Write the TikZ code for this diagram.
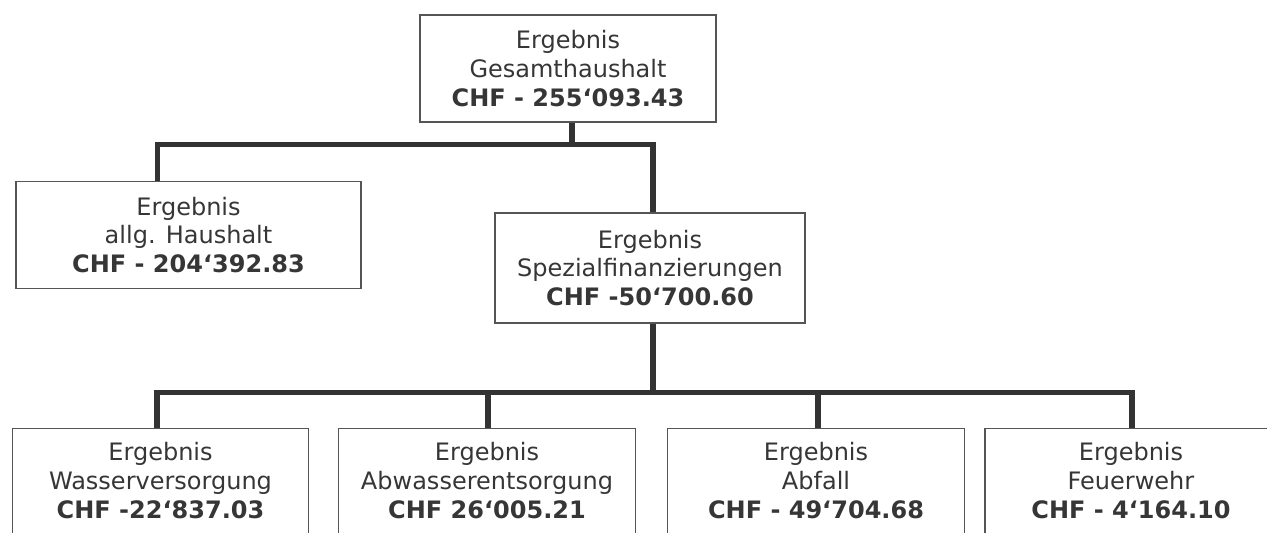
\documentclass[tikz,border=0pt]{standalone}
\usepackage{fontspec}
\setmainfont{DejaVu Sans}
\definecolor{textgray}{HTML}{363636}
\definecolor{boxgray}{HTML}{555555}
\definecolor{conngray}{HTML}{333333}
\begin{document}
\begin{tikzpicture}[x=1pt,y=-1pt,
  box/.style={draw=boxgray,line width=1.3pt,fill=white,align=center,text=textgray,
    font=\fontsize{24}{28.8}\selectfont,inner sep=0pt,minimum width=296pt,minimum height=107pt},
  lowbox/.style={box,anchor=north,minimum height=0pt,inner ysep=14pt,text depth=45pt},
  conn/.style={draw=conngray,line width=5.5pt}]
\path[use as bounding box] (0,0) rectangle (1267,533);
\clip (0,0) rectangle (1267,533);
\fill[white] (0,0) rectangle (1267,533);
\node[box] (top) at (568,68.5) {Ergebnis\\Gesamthaushalt\\\textbf{CHF - 255‘093.43}};
\node[box,minimum width=345pt] (allg) at (188.5,235) {Ergebnis\\allg. Haushalt\\\textbf{CHF - 204‘392.83}};
\node[box,minimum width=310pt,minimum height=110pt] (spez) at (650,268) {Ergebnis\\Spezialfinanzierungen\\\textbf{CHF -50‘700.60}};
\node[lowbox] (b1) at (160.5,428) {Ergebnis\\Wasserversorgung\\\textbf{CHF -22‘837.03}};
\node[lowbox,minimum width=297pt] (b2) at (487,428) {Ergebnis\\Abwasserentsorgung\\\textbf{CHF 26‘005.21}};
\node[lowbox,minimum width=297pt] (b3) at (816,428) {Ergebnis\\Abfall\\\textbf{CHF - 49‘704.68}};
\node[lowbox,minimum width=292pt] (b4) at (1131,428) {Ergebnis\\Feuerwehr\\\textbf{CHF - 4‘164.10}};
\coordinate (j1) at ([xshift=4pt,yshift=-22pt]top.south);
\draw[conn] ([xshift=4pt]top.south) -- (j1);
\draw[conn] ([xshift=-31pt]allg.north) |- (j1) -| ([xshift=3pt]spez.north);
\coordinate (j2) at ([xshift=3pt,yshift=-69pt]spez.south);
\draw[conn] ([xshift=3pt]spez.south) -- (j2);
\draw[conn] ([xshift=-3.5pt]b1.north) |- (j2) -| ([xshift=1pt]b4.north);
\draw[conn] ([xshift=1pt]b2.north) -- ++(0,-36);
\draw[conn] ([xshift=2pt]b3.north) -- ++(0,-36);
\end{tikzpicture}
\end{document}
